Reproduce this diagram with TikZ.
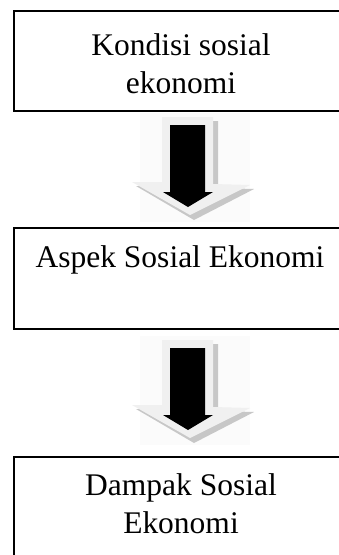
\documentclass[tikz,border=0pt]{standalone}
\usepackage{fontspec}
\setmainfont{Liberation Serif}
\begin{document}
\begin{tikzpicture}[x=1pt,y=-1pt,
  box/.style={draw=black,line width=1.6pt,rectangle,inner sep=0pt,anchor=north west},
  lbl/.style={anchor=base,inner sep=0pt,font=\fontsize{31.5}{38}\selectfont},
  face/.style={fill=black!6},
  shade/.style={fill=black!22},
  haze/.style={fill=black!1.5}]
\useasboundingbox (0,0) rectangle (339,555);
\clip (0,0) rectangle (339,555);
\fill[white] (0,0) rectangle (339,555);
% boxes
\node[box,minimum width=340pt,minimum height=100pt] (b1) at (13,10) {};
\node[box,minimum width=340pt,minimum height=101pt] (b2) at (13,227) {};
\node[box,minimum width=340pt,minimum height=120pt] (b3) at (13,456) {};
% texts
\node[lbl] (t1a) at (181,55) {Kondisi sosial};
\node[lbl] (t1b) at (181,93) {ekonomi};
\node[lbl] (t2) at (180,267) {Aspek Sosial Ekonomi};
\node[lbl] (t3a) at (181,495) {Dampak Sosial};
\node[lbl] (t3b) at (181,533) {Ekonomi};
% block arrows
\foreach \dy/\nm in {0/a1,223/a2}{
  \begin{scope}[yshift=-\dy pt]
    \fill[haze] (140,113) rectangle (250,222);
    \fill[shade] (168,121) -- (218,121) -- (218,188) -- (254,189) -- (194,220) -- (136,186) -- (168,186) -- cycle;
    \fill[face] (162,117) -- (213,117) -- (213,184) -- (250,185) -- (190,215) -- (132,182) -- (162,182) -- cycle;
    \fill[black] (170,125) -- (205,125) -- (205,192) -- (213,192) -- (188,207) -- (163,192) -- (170,192) -- cycle;
    \coordinate (\nm) at (188,207);
  \end{scope}
}
\end{tikzpicture}
\end{document}
